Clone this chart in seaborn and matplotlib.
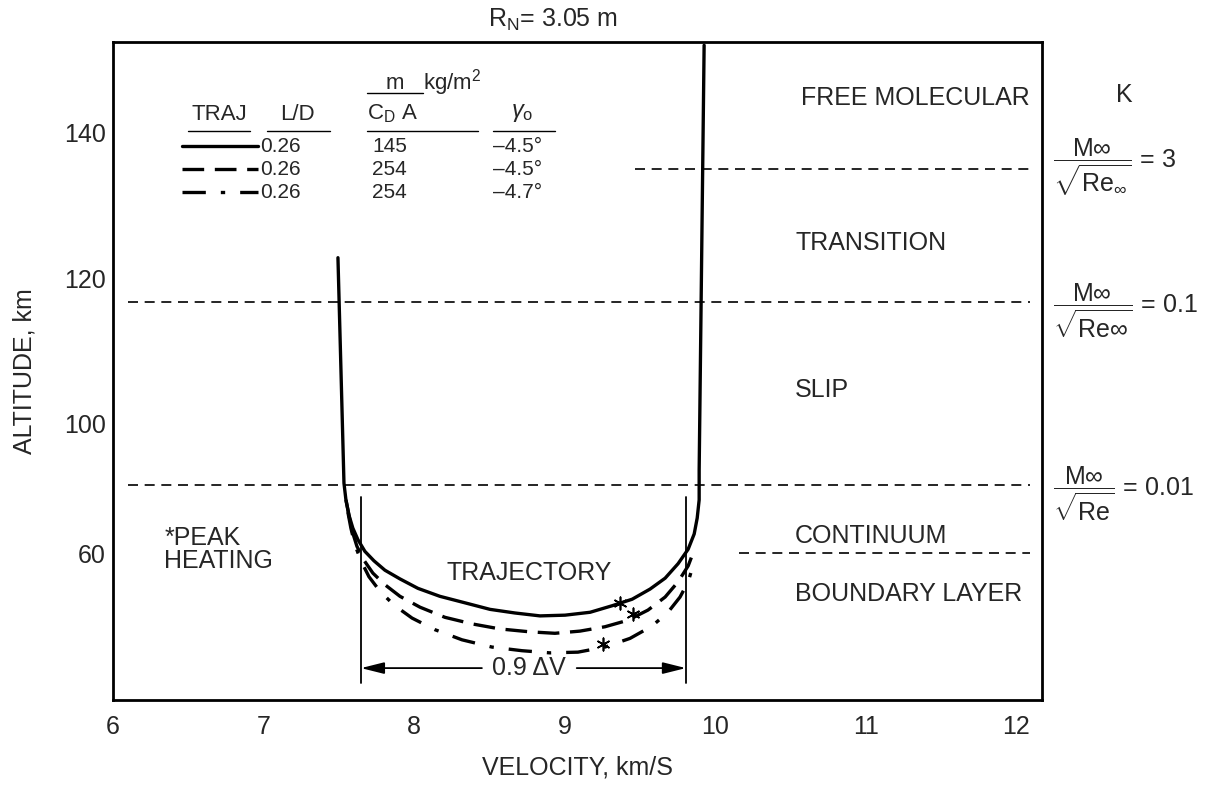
import numpy as np
import pandas as pd
import matplotlib
matplotlib.use("Agg")
import matplotlib.pyplot as plt
import seaborn as sns

sns.set_style("white")
plt.rcParams["font.family"] = ["Liberation Sans", "DejaVu Sans"]
plt.rcParams["mathtext.fontset"] = "custom"
plt.rcParams["mathtext.rm"] = "Liberation Sans"
plt.rcParams["mathtext.it"] = "Liberation Sans:italic"
plt.rcParams["mathtext.sf"] = "Liberation Sans"

# ---------------- data (velocity km/s, altitude km) ----------------
traj1_v = [7.494, 7.514, 7.534, 7.547, 7.567, 7.593, 7.627, 7.673, 7.733, 7.806,
           7.906, 8.025, 8.171, 8.338, 8.504, 8.670, 8.836, 9.002, 9.169, 9.315,
           9.448, 9.567, 9.667, 9.753, 9.820, 9.860, 9.880, 9.893, 9.893, 9.926]
traj1_h = [122.8, 107.3, 91.7, 89.4, 87.3, 85.5, 83.9, 82.3, 81.0, 79.7,
           78.5, 77.2, 76.1, 75.2, 74.3, 73.8, 73.4, 73.5, 73.9, 74.8,
           75.7, 77.1, 78.6, 80.6, 82.6, 84.7, 86.9, 89.4, 93.5, 152.1]

traj2_v = [7.547, 7.567, 7.587, 7.620, 7.666, 7.726, 7.806, 7.906, 8.039, 8.205,
           8.384, 8.570, 8.769, 8.935, 9.101, 9.267, 9.420, 9.553, 9.667, 9.753,
           9.820, 9.866]
traj2_h = [89.4, 87.3, 85.2, 83.0, 81.1, 79.3, 77.7, 76.1, 74.6, 73.2,
           72.3, 71.6, 71.2, 71.0, 71.3, 71.9, 72.8, 74.2, 76.0, 78.1,
           80.3, 82.8]

traj3_v = [7.560, 7.580, 7.607, 7.647, 7.700, 7.773, 7.866, 7.986, 8.138, 8.318,
           8.517, 8.716, 8.902, 9.088, 9.267, 9.434, 9.580, 9.686, 9.766, 9.820,
           9.853]
traj3_h = [87.7, 85.5, 83.2, 81.0, 78.8, 76.8, 74.9, 73.1, 71.5, 70.1,
           69.1, 68.6, 68.3, 68.4, 69.1, 70.3, 72.0, 73.9, 76.0, 78.1,
           80.4]

peak_v = [9.367, 9.454, 9.254]
peak_h = [75.2, 73.6, 69.5]

# regime boundaries: altitude, start velocity, end velocity
bound_h = [135.0, 116.7, 91.4, 82.1]
bound_v0 = [9.47, 6.10, 6.10, 10.16]
bound_v1 = [12.09, 12.09, 12.09, 12.09]

regime_names = ["FREE MOLECULAR", "TRANSITION", "SLIP", "CONTINUUM", "BOUNDARY LAYER"]
regime_h = [144.8, 124.8, 104.6, 84.4, 76.4]

k_labels = [r"$\dfrac{\mathrm{M}\infty}{\sqrt{\mathrm{Re}_\infty}}$ = 3",
            r"$\dfrac{\mathrm{M}\infty}{\sqrt{\mathrm{Re}\infty}}$ = 0.1",
            r"$\dfrac{\mathrm{M}\infty}{\sqrt{\mathrm{Re}}}$ = 0.01"]
k_h = [135.3, 115.5, 90.3]

table_ld = ["0.26", "0.26", "0.26"]
table_m = ["145", "254", "254"]
table_g = ["\u20134.5\u00b0", "\u20134.5\u00b0", "\u20134.7\u00b0"]
table_rows_h = [138.2, 135.0, 131.8]

xticks = [6, 7, 8, 9, 10, 11, 12]
ytick_pos = [140, 120, 100, 82]
ytick_labels = ["140", "120", "100", "60"]

bracket_v = [7.647, 9.805]
bracket_h = [89.8, 64.1]
dv_h = 66.2

# ---------------- figure ----------------
fig = plt.figure(figsize=(12.25, 7.88), dpi=100)
ax = fig.add_axes([113 / 1225, 1 - 700 / 788, (1042 - 113) / 1225, (700 - 42) / 788])
ax.set_xlim(6, 12.17)
ax.set_ylim(61.8, 152.55)

FS = 18
TFS = 15
lw = 2.4
styles = ["-", (0, (6.5, 3.2)), (0, (7, 4.5, 1.3, 4.5))]
trajs = [(traj1_v, traj1_h), (traj2_v, traj2_h), (traj3_v, traj3_h)]
for (v, h), ls in zip(trajs, styles):
    df = pd.DataFrame({"v": v, "h": h})
    sns.lineplot(data=df, x="v", y="h", sort=False, estimator=None, ax=ax,
                 color="black", lw=lw, linestyle=ls)

sns.scatterplot(x=peak_v, y=peak_h, ax=ax, marker=(6, 2, 0), s=80,
                color="black", linewidth=1.2, zorder=5)

for h, v0, v1 in zip(bound_h, bound_v0, bound_v1):
    ax.plot([v0, v1], [h, h], color="black", lw=1.2, linestyle=(0, (6, 4)))

# bracket + 0.9 dV
for v in bracket_v:
    ax.plot([v, v], bracket_h, color="black", lw=1.3)
ax.annotate("", xy=(bracket_v[0], dv_h), xytext=(8.45, dv_h),
            arrowprops=dict(arrowstyle="-|>,head_length=1.4,head_width=0.35",
                            color="black", lw=1.3, shrinkA=0, shrinkB=0))
ax.annotate("", xy=(bracket_v[1], dv_h), xytext=(9.08, dv_h),
            arrowprops=dict(arrowstyle="-|>,head_length=1.4,head_width=0.35",
                            color="black", lw=1.3, shrinkA=0, shrinkB=0))
ax.text(8.76, dv_h, "0.9 \u0394V", ha="center", va="center", fontsize=FS)

ax.text(8.765, 79.3, "TRAJECTORY", ha="center", va="center", fontsize=FS)
ax.text(6.34, 82.6, "*PEAK\nHEATING", ha="left", va="center", fontsize=FS,
        linespacing=0.95)

# regime labels
for name, h in zip(regime_names, regime_h):
    if name == "FREE MOLECULAR":
        ax.text(12.09, h, name, ha="right", va="center", fontsize=FS)
    else:
        ax.text(10.53, h, name, ha="left", va="center", fontsize=FS)

# K column
ax.text(12.72, 145.2, "K", ha="center", va="center", fontsize=FS, clip_on=False)
for lab, h in zip(k_labels, k_h):
    ax.text(12.245, h, lab, ha="left", va="center", fontsize=FS, clip_on=False)

# table
ax.text(6.705, 142.6, "TRAJ", ha="center", va="center", fontsize=TFS + 1)
ax.text(7.228, 142.6, "L/D", ha="center", va="center", fontsize=TFS + 1)
ax.text(7.686, 142.6, r"C$_\mathrm{D}$ A", ha="left", va="center", fontsize=TFS + 1)
ax.text(7.87, 146.8, "m", ha="center", va="center", fontsize=TFS + 1)
ax.text(8.06, 147.0, r"kg/m$^2$", ha="left", va="center", fontsize=TFS + 1)
ax.text(8.72, 142.7, r"$\gamma_\mathrm{o}$", ha="center", va="center", fontsize=TFS + 2)
for x0, x1, y in [(6.497, 6.909, 140.3), (7.02, 7.44, 140.3), (7.686, 8.424, 140.3),
                  (8.524, 8.936, 140.3), (7.69, 8.06, 145.5)]:
    ax.plot([x0, x1], [y, y], color="black", lw=1.0)
for y, ls, ld, m, g in zip(table_rows_h, styles, table_ld, table_m, table_g):
    ax.plot([6.459, 6.964], [y, y], color="black", lw=lw, linestyle=ls)
    ax.text(6.975, y, ld, ha="left", va="center", fontsize=TFS)
    ax.text(7.72, y, m, ha="left", va="center", fontsize=TFS)
    ax.text(8.524, y, g, ha="left", va="center", fontsize=TFS)

ax.text(8.92, 155.6, r"R$_\mathrm{N}$= 3.05 m", ha="center", va="center",
        fontsize=FS, clip_on=False)

# axes styling
ax.set_xticks(xticks)
ax.set_xticklabels([str(t) for t in xticks])
ax.set_yticks(ytick_pos)
ax.set_yticklabels(ytick_labels)
ax.tick_params(axis="x", direction="in", length=13, width=1.4, pad=11, labelsize=FS)
ax.tick_params(axis="y", direction="in", length=20, width=1.4, pad=5, labelsize=FS)
for s in ax.spines.values():
    s.set_linewidth(2.0)
    s.set_color("black")
ax.set_xlabel("VELOCITY, km/S", fontsize=FS, labelpad=12)
ax.set_ylabel("ALTITUDE, km", fontsize=FS, labelpad=20)
ax.grid(False)

fig.savefig("out.png", dpi=100, facecolor="white")
